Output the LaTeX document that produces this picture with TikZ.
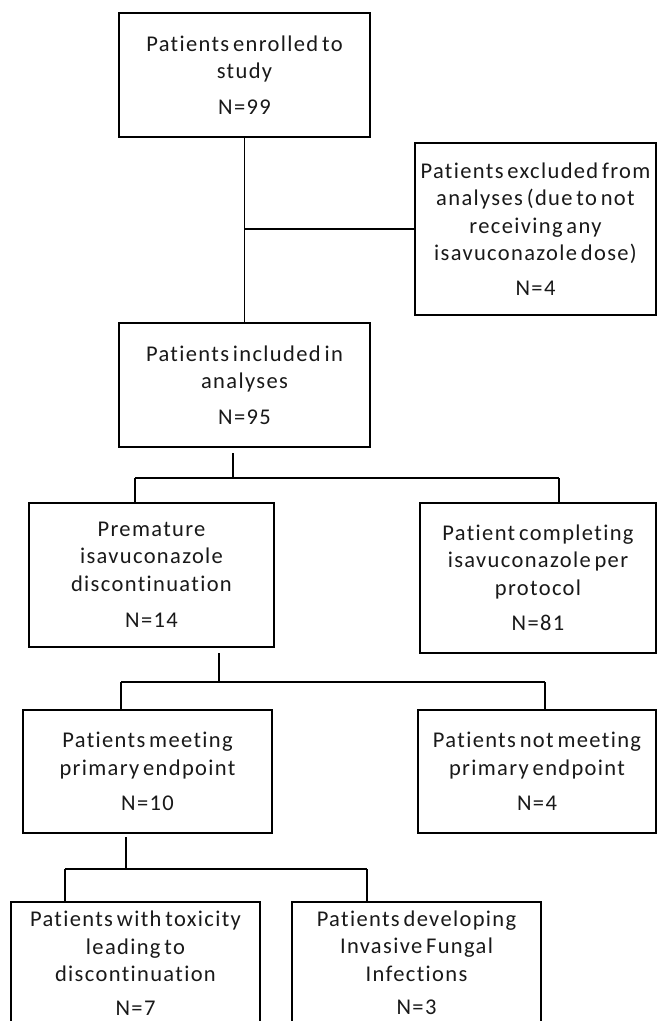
\documentclass[tikz,border=0pt]{standalone}
\usepackage{fontspec}
\setmainfont{Carlito}[LetterSpace=6,WordSpace=0.6,Ligatures={NoCommon}]
\begin{document}
\begin{tikzpicture}[x=1pt,y=1pt,
  box/.style={draw=black,line width=1.5pt,align=center,inner sep=0pt,
    font=\fontsize{22.5}{27.5}\selectfont,text=black!90},
  conn/.style={draw=black,line width=1.5pt}]
\useasboundingbox (0,0) rectangle (657,-1021);
\clip (0,0) rectangle (657,-1021);
\fill[white] (0,0) rectangle (657,-1021);
\node[box,minimum width=251pt,minimum height=124pt] (b1) at (244.5,-75)
  {Patients enrolled to\\study\\[8pt]N=99};
\node[box,minimum width=241pt,minimum height=172pt] (b2) at (535.5,-229)
  {Patients excluded from\\analyses (due to not\\receiving any\\isavuconazole dose)\\[7pt]N=4};
\node[box,minimum width=251pt,minimum height=124pt] (b3) at (244.5,-385)
  {Patients included in\\analyses\\[8pt]N=95};
\node[box,minimum width=245pt,minimum height=144pt] (b4) at (151.5,-575)
  {Premature\\isavuconazole\\discontinuation\\[9pt]N=14};
\node[box,minimum width=236pt,minimum height=150pt] (b5) at (538,-578)
  {Patient completing\\isavuconazole per\\protocol\\[8pt]N=81};
\node[box,minimum width=249pt,minimum height=123pt] (b6) at (147.5,-771.5)
  {Patients meeting\\primary endpoint\\[8pt]N=10};
\node[box,minimum width=238pt,minimum height=123pt] (b7) at (537,-771.5)
  {Patients not meeting\\primary endpoint\\[8pt]N=4};
\node[box,minimum width=249pt,minimum height=122pt] (b8) at (135.5,-963)
  {Patients with toxicity\\leading to\\discontinuation\\[6pt]N=7};
\node[box,minimum width=249pt,minimum height=122pt] (b9) at (416.5,-963)
  {Patients developing\\Invasive Fungal\\Infections\\[6pt]N=3};
% top trunk
\draw[conn] (b1.south) -- (b3.north);
\draw[conn] (b2.west) -- (b2.west -| b1.south);
% fork 1
\coordinate (s1) at (233,-453);
\coordinate (f1) at (233,-478);
\coordinate (l1) at (135,-478);
\coordinate (r1) at (559,-478);
\draw[conn] (s1) -- (f1);
\draw[conn] (l1) -- (r1);
\draw[conn] (l1) -- (l1 |- b4.north);
\draw[conn] (r1) -- (r1 |- b5.north);
% fork 2
\coordinate (s2) at (219,-653);
\coordinate (f2) at (219,-682);
\coordinate (l2) at (121,-682);
\coordinate (r2) at (545,-682);
\draw[conn] (s2) -- (f2);
\draw[conn] (l2) -- (r2);
\draw[conn] (l2) -- (l2 |- b6.north);
\draw[conn] (r2) -- (r2 |- b7.north);
% fork 3
\coordinate (s3) at (126,-837);
\coordinate (f3) at (126,-869);
\coordinate (l3) at (65,-869);
\coordinate (r3) at (367,-869);
\draw[conn] (s3) -- (f3);
\draw[conn] (l3) -- (r3);
\draw[conn] (l3) -- (l3 |- b8.north);
\draw[conn] (r3) -- (r3 |- b9.north);
\end{tikzpicture}
\end{document}
